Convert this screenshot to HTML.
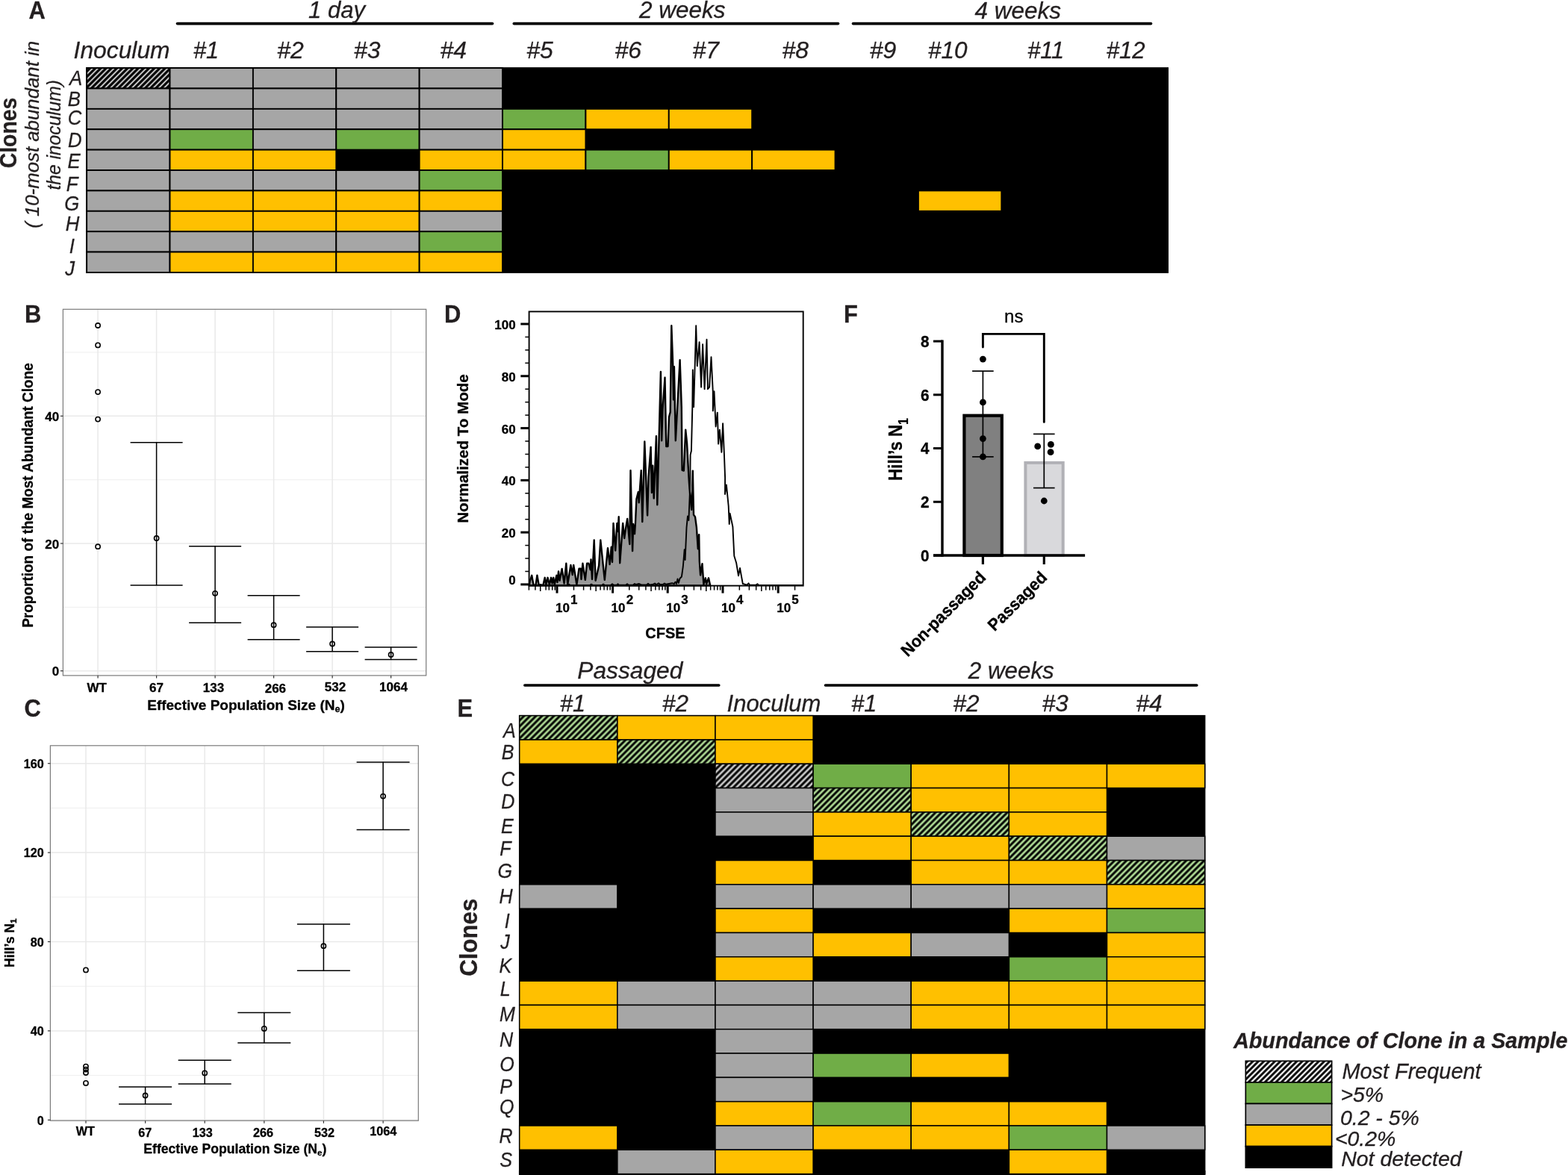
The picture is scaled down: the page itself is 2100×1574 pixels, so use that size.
<!DOCTYPE html>
<html lang="en">
<head>
<meta charset="utf-8">
<title>Figure: clonal abundance after inoculation</title>
<style>
html,body{margin:0;padding:0;background:#fff;}
body{width:2100px;height:1574px;overflow:hidden;}
svg{display:block;font-family:"Liberation Sans",sans-serif;}
text{fill:#231f20;stroke:#231f20;stroke-width:0.3px;stroke-linejoin:round;}
.k text{fill:#000;stroke:#000;}
.k text.pl{fill:#231f20;stroke:#231f20;}
</style>
</head>
<body>
<svg width="2100" height="1574" viewBox="0 0 2100 1574">
<defs><pattern id="hGrayA" patternUnits="userSpaceOnUse" width="5.08" height="5.08" patternTransform="rotate(45)"><rect width="5.08" height="5.08" fill="#c8c8c8"/><line x1="2.54" y1="-1" x2="2.54" y2="6.08" stroke="#000" stroke-width="3.1"/></pattern><pattern id="hGray" patternUnits="userSpaceOnUse" width="5.66" height="5.66" patternTransform="rotate(45)"><rect width="5.66" height="5.66" fill="#cdcdcd"/><line x1="2.83" y1="-1" x2="2.83" y2="6.66" stroke="#000" stroke-width="3.0"/></pattern><pattern id="hGreen" patternUnits="userSpaceOnUse" width="5.66" height="5.66" patternTransform="rotate(45)"><rect width="5.66" height="5.66" fill="#b0dc96"/><line x1="2.83" y1="-1" x2="2.83" y2="6.66" stroke="#000" stroke-width="2.95"/></pattern><pattern id="hWhite" patternUnits="userSpaceOnUse" width="5.2" height="5.2" patternTransform="rotate(45)"><rect width="5.2" height="5.2" fill="#ffffff"/><line x1="2.6" y1="-1" x2="2.6" y2="6.2" stroke="#000" stroke-width="2.9"/></pattern></defs>
<rect x="0" y="0" width="2100" height="1574" fill="#ffffff"/>
<g id="panelA">
<text font-size="32.9" transform="translate(38.60 25.20) scale(0.94 1)" font-weight="bold" stroke-width="0">A</text>
<rect x="115.20" y="90.15" width="1449.80" height="275.75" fill="#000"/>
<g stroke="#000" stroke-width="1.9">
<rect x="116.15" y="91.10" width="111.38" height="27.39" fill="url(#hGrayA)"/>
<rect x="227.53" y="91.10" width="111.38" height="27.39" fill="#a6a6a6"/>
<rect x="338.90" y="91.10" width="111.38" height="27.39" fill="#a6a6a6"/>
<rect x="450.28" y="91.10" width="111.38" height="27.39" fill="#a6a6a6"/>
<rect x="561.66" y="91.10" width="111.38" height="27.39" fill="#a6a6a6"/>
<rect x="116.15" y="118.48" width="111.38" height="27.39" fill="#a6a6a6"/>
<rect x="227.53" y="118.48" width="111.38" height="27.39" fill="#a6a6a6"/>
<rect x="338.90" y="118.48" width="111.38" height="27.39" fill="#a6a6a6"/>
<rect x="450.28" y="118.48" width="111.38" height="27.39" fill="#a6a6a6"/>
<rect x="561.66" y="118.48" width="111.38" height="27.39" fill="#a6a6a6"/>
<rect x="116.15" y="145.87" width="111.38" height="27.39" fill="#a6a6a6"/>
<rect x="227.53" y="145.87" width="111.38" height="27.39" fill="#a6a6a6"/>
<rect x="338.90" y="145.87" width="111.38" height="27.39" fill="#a6a6a6"/>
<rect x="450.28" y="145.87" width="111.38" height="27.39" fill="#a6a6a6"/>
<rect x="561.66" y="145.87" width="111.38" height="27.39" fill="#a6a6a6"/>
<rect x="673.03" y="145.87" width="111.38" height="27.39" fill="#70ad47"/>
<rect x="784.41" y="145.87" width="111.38" height="27.39" fill="#ffc000"/>
<rect x="895.79" y="145.87" width="111.38" height="27.39" fill="#ffc000"/>
<rect x="116.15" y="173.25" width="111.38" height="27.39" fill="#a6a6a6"/>
<rect x="227.53" y="173.25" width="111.38" height="27.39" fill="#70ad47"/>
<rect x="338.90" y="173.25" width="111.38" height="27.39" fill="#a6a6a6"/>
<rect x="450.28" y="173.25" width="111.38" height="27.39" fill="#70ad47"/>
<rect x="561.66" y="173.25" width="111.38" height="27.39" fill="#a6a6a6"/>
<rect x="673.03" y="173.25" width="111.38" height="27.39" fill="#ffc000"/>
<rect x="116.15" y="200.64" width="111.38" height="27.39" fill="#a6a6a6"/>
<rect x="227.53" y="200.64" width="111.38" height="27.39" fill="#ffc000"/>
<rect x="338.90" y="200.64" width="111.38" height="27.39" fill="#ffc000"/>
<rect x="561.66" y="200.64" width="111.38" height="27.39" fill="#ffc000"/>
<rect x="673.03" y="200.64" width="111.38" height="27.39" fill="#ffc000"/>
<rect x="784.41" y="200.64" width="111.38" height="27.39" fill="#70ad47"/>
<rect x="895.79" y="200.64" width="111.38" height="27.39" fill="#ffc000"/>
<rect x="1007.17" y="200.64" width="111.38" height="27.39" fill="#ffc000"/>
<rect x="116.15" y="228.03" width="111.38" height="27.39" fill="#a6a6a6"/>
<rect x="227.53" y="228.03" width="111.38" height="27.39" fill="#a6a6a6"/>
<rect x="338.90" y="228.03" width="111.38" height="27.39" fill="#a6a6a6"/>
<rect x="450.28" y="228.03" width="111.38" height="27.39" fill="#a6a6a6"/>
<rect x="561.66" y="228.03" width="111.38" height="27.39" fill="#70ad47"/>
<rect x="116.15" y="255.41" width="111.38" height="27.39" fill="#a6a6a6"/>
<rect x="227.53" y="255.41" width="111.38" height="27.39" fill="#ffc000"/>
<rect x="338.90" y="255.41" width="111.38" height="27.39" fill="#ffc000"/>
<rect x="450.28" y="255.41" width="111.38" height="27.39" fill="#ffc000"/>
<rect x="561.66" y="255.41" width="111.38" height="27.39" fill="#ffc000"/>
<rect x="1229.92" y="255.41" width="111.38" height="27.39" fill="#ffc000"/>
<rect x="116.15" y="282.80" width="111.38" height="27.39" fill="#a6a6a6"/>
<rect x="227.53" y="282.80" width="111.38" height="27.39" fill="#ffc000"/>
<rect x="338.90" y="282.80" width="111.38" height="27.39" fill="#ffc000"/>
<rect x="450.28" y="282.80" width="111.38" height="27.39" fill="#ffc000"/>
<rect x="561.66" y="282.80" width="111.38" height="27.39" fill="#a6a6a6"/>
<rect x="116.15" y="310.18" width="111.38" height="27.39" fill="#a6a6a6"/>
<rect x="227.53" y="310.18" width="111.38" height="27.39" fill="#a6a6a6"/>
<rect x="338.90" y="310.18" width="111.38" height="27.39" fill="#a6a6a6"/>
<rect x="450.28" y="310.18" width="111.38" height="27.39" fill="#a6a6a6"/>
<rect x="561.66" y="310.18" width="111.38" height="27.39" fill="#70ad47"/>
<rect x="116.15" y="337.56" width="111.38" height="27.39" fill="#a6a6a6"/>
<rect x="227.53" y="337.56" width="111.38" height="27.39" fill="#ffc000"/>
<rect x="338.90" y="337.56" width="111.38" height="27.39" fill="#ffc000"/>
<rect x="450.28" y="337.56" width="111.38" height="27.39" fill="#ffc000"/>
<rect x="561.66" y="337.56" width="111.38" height="27.39" fill="#ffc000"/>
</g>
<line x1="237.60" y1="31.60" x2="659.40" y2="31.60" stroke="#000" stroke-width="3.8" stroke-linecap="round"/>
<line x1="688.40" y1="31.60" x2="1122.40" y2="31.60" stroke="#000" stroke-width="3.8" stroke-linecap="round"/>
<line x1="1142.60" y1="31.60" x2="1541.40" y2="31.60" stroke="#000" stroke-width="3.8" stroke-linecap="round"/>
<text font-size="31" x="413.00" y="23.60" font-style="italic" textLength="76.00" lengthAdjust="spacingAndGlyphs">1 day</text>
<text font-size="31" x="856.00" y="23.60" font-style="italic" textLength="115.50" lengthAdjust="spacingAndGlyphs">2 weeks</text>
<text font-size="31" x="1305.50" y="25.00" font-style="italic" textLength="115.50" lengthAdjust="spacingAndGlyphs">4 weeks</text>
<text font-size="32" x="98.60" y="78.30" font-style="italic" textLength="129.00" lengthAdjust="spacingAndGlyphs">Inoculum</text>
<text font-size="32" x="259.00" y="78.30" font-style="italic" textLength="34.00" lengthAdjust="spacingAndGlyphs">#1</text>
<text font-size="32" x="371.20" y="78.30" font-style="italic" textLength="35.50" lengthAdjust="spacingAndGlyphs">#2</text>
<text font-size="32" x="474.00" y="78.30" font-style="italic" textLength="35.50" lengthAdjust="spacingAndGlyphs">#3</text>
<text font-size="32" x="589.50" y="78.30" font-style="italic" textLength="35.50" lengthAdjust="spacingAndGlyphs">#4</text>
<text font-size="32" x="705.30" y="78.30" font-style="italic" textLength="35.50" lengthAdjust="spacingAndGlyphs">#5</text>
<text font-size="32" x="823.40" y="78.30" font-style="italic" textLength="35.50" lengthAdjust="spacingAndGlyphs">#6</text>
<text font-size="32" x="927.40" y="78.30" font-style="italic" textLength="35.50" lengthAdjust="spacingAndGlyphs">#7</text>
<text font-size="32" x="1047.40" y="78.30" font-style="italic" textLength="35.50" lengthAdjust="spacingAndGlyphs">#8</text>
<text font-size="32" x="1164.80" y="78.30" font-style="italic" textLength="35.50" lengthAdjust="spacingAndGlyphs">#9</text>
<text font-size="32" x="1243.00" y="78.30" font-style="italic" textLength="52.50" lengthAdjust="spacingAndGlyphs">#10</text>
<text font-size="32" x="1376.20" y="78.30" font-style="italic" textLength="49.00" lengthAdjust="spacingAndGlyphs">#11</text>
<text font-size="32" x="1481.70" y="78.30" font-style="italic" textLength="52.00" lengthAdjust="spacingAndGlyphs">#12</text>
<text font-size="27.7" transform="translate(93.10 114.00) scale(0.93 1)" font-style="italic">A</text>
<text font-size="27.7" transform="translate(90.80 142.20) scale(0.93 1)" font-style="italic">B</text>
<text font-size="27.7" transform="translate(90.73 166.80) scale(0.93 1)" font-style="italic">C</text>
<text font-size="27.7" transform="translate(91.10 197.20) scale(0.93 1)" font-style="italic">D</text>
<text font-size="27.7" transform="translate(90.59 224.80) scale(0.93 1)" font-style="italic">E</text>
<text font-size="27.7" transform="translate(88.73 256.10) scale(0.93 1)" font-style="italic">F</text>
<text font-size="27.7" transform="translate(86.13 282.00) scale(0.93 1)" font-style="italic">G</text>
<text font-size="27.7" transform="translate(87.86 308.70) scale(0.93 1)" font-style="italic">H</text>
<text font-size="27.7" transform="translate(92.71 339.20) scale(0.93 1)" font-style="italic">I</text>
<text font-size="27.7" transform="translate(87.30 368.50) scale(0.93 1)" font-style="italic">J</text>
<text font-size="30.5" transform="translate(21.90 178.00) rotate(-90) scale(0.93 1)" font-weight="bold" text-anchor="middle" stroke-width="0">Clones</text>
<text font-size="25.8" x="52.00" y="180.40" transform="rotate(-90 52.00 180.40)" font-style="italic" text-anchor="middle">( 10-most abundant in</text>
<text font-size="25.8" x="81.00" y="254.60" transform="rotate(-90 81.00 254.60)" font-style="italic" textLength="147.50" lengthAdjust="spacingAndGlyphs">the inoculum)</text>
</g>
<g id="panelB" class="k">
<text font-size="32.9" transform="translate(32.90 431.90) scale(0.94 1)" font-weight="bold" stroke-width="0" class="pl">B</text>
<rect x="84.40" y="414.30" width="486.30" height="490.60" fill="#fff"/>
<line x1="84.40" y1="813.35" x2="570.70" y2="813.35" stroke="#ececec" stroke-width="0.9"/>
<line x1="84.40" y1="642.65" x2="570.70" y2="642.65" stroke="#ececec" stroke-width="0.9"/>
<line x1="84.40" y1="471.95" x2="570.70" y2="471.95" stroke="#ececec" stroke-width="0.9"/>
<line x1="84.40" y1="898.70" x2="570.70" y2="898.70" stroke="#e9e9e9" stroke-width="1.5"/>
<line x1="84.40" y1="728.00" x2="570.70" y2="728.00" stroke="#e9e9e9" stroke-width="1.5"/>
<line x1="84.40" y1="557.30" x2="570.70" y2="557.30" stroke="#e9e9e9" stroke-width="1.5"/>
<line x1="131.10" y1="414.30" x2="131.10" y2="904.90" stroke="#e9e9e9" stroke-width="1.5"/>
<line x1="209.60" y1="414.30" x2="209.60" y2="904.90" stroke="#e9e9e9" stroke-width="1.5"/>
<line x1="288.10" y1="414.30" x2="288.10" y2="904.90" stroke="#e9e9e9" stroke-width="1.5"/>
<line x1="366.60" y1="414.30" x2="366.60" y2="904.90" stroke="#e9e9e9" stroke-width="1.5"/>
<line x1="445.10" y1="414.30" x2="445.10" y2="904.90" stroke="#e9e9e9" stroke-width="1.5"/>
<line x1="523.60" y1="414.30" x2="523.60" y2="904.90" stroke="#e9e9e9" stroke-width="1.5"/>
<rect x="84.40" y="414.30" width="486.30" height="490.60" fill="none" stroke="#7a7a7a" stroke-width="1.2"/>
<line x1="80.90" y1="898.70" x2="84.40" y2="898.70" stroke="#333" stroke-width="1.2"/>
<text font-size="17" x="79.20" y="905.25" font-weight="bold" text-anchor="end" stroke-width="0.5">0</text>
<line x1="80.90" y1="728.00" x2="84.40" y2="728.00" stroke="#333" stroke-width="1.2"/>
<text font-size="17" x="79.20" y="734.54" font-weight="bold" text-anchor="end" stroke-width="0.5">20</text>
<line x1="80.90" y1="557.30" x2="84.40" y2="557.30" stroke="#333" stroke-width="1.2"/>
<text font-size="17" x="79.20" y="563.85" font-weight="bold" text-anchor="end" stroke-width="0.5">40</text>
<line x1="131.10" y1="904.90" x2="131.10" y2="908.40" stroke="#333" stroke-width="1.2"/>
<text font-size="17" x="129.60" y="926.70" font-weight="bold" text-anchor="middle" stroke-width="0.5">WT</text>
<line x1="209.60" y1="904.90" x2="209.60" y2="908.40" stroke="#333" stroke-width="1.2"/>
<text font-size="17" x="209.40" y="926.70" font-weight="bold" text-anchor="middle" stroke-width="0.5">67</text>
<line x1="288.10" y1="904.90" x2="288.10" y2="908.40" stroke="#333" stroke-width="1.2"/>
<text font-size="17" x="286.00" y="926.70" font-weight="bold" text-anchor="middle" stroke-width="0.5">133</text>
<line x1="366.60" y1="904.90" x2="366.60" y2="908.40" stroke="#333" stroke-width="1.2"/>
<text font-size="17" x="368.90" y="927.90" font-weight="bold" text-anchor="middle" stroke-width="0.5">266</text>
<line x1="445.10" y1="904.90" x2="445.10" y2="908.40" stroke="#333" stroke-width="1.2"/>
<text font-size="17" x="449.00" y="925.50" font-weight="bold" text-anchor="middle" stroke-width="0.5">532</text>
<line x1="523.60" y1="904.90" x2="523.60" y2="908.40" stroke="#333" stroke-width="1.2"/>
<text font-size="17" x="527.00" y="925.50" font-weight="bold" text-anchor="middle" stroke-width="0.5">1064</text>
<circle cx="131.10" cy="436.00" r="3.1" fill="none" stroke="#000" stroke-width="1.6"/>
<circle cx="131.10" cy="462.40" r="3.1" fill="none" stroke="#000" stroke-width="1.6"/>
<circle cx="131.10" cy="525.10" r="3.1" fill="none" stroke="#000" stroke-width="1.6"/>
<circle cx="131.10" cy="561.60" r="3.1" fill="none" stroke="#000" stroke-width="1.6"/>
<circle cx="131.10" cy="732.20" r="3.1" fill="none" stroke="#000" stroke-width="1.6"/>
<line x1="174.60" y1="592.80" x2="244.60" y2="592.80" stroke="#000" stroke-width="1.5"/>
<line x1="174.60" y1="784.00" x2="244.60" y2="784.00" stroke="#000" stroke-width="1.5"/>
<line x1="209.60" y1="592.80" x2="209.60" y2="784.00" stroke="#000" stroke-width="1.5"/>
<circle cx="209.60" cy="721.00" r="3.1" fill="none" stroke="#000" stroke-width="1.6"/>
<line x1="253.10" y1="731.80" x2="323.10" y2="731.80" stroke="#000" stroke-width="1.5"/>
<line x1="253.10" y1="834.30" x2="323.10" y2="834.30" stroke="#000" stroke-width="1.5"/>
<line x1="288.10" y1="731.80" x2="288.10" y2="834.30" stroke="#000" stroke-width="1.5"/>
<circle cx="288.10" cy="794.80" r="3.1" fill="none" stroke="#000" stroke-width="1.6"/>
<line x1="331.60" y1="797.70" x2="401.60" y2="797.70" stroke="#000" stroke-width="1.5"/>
<line x1="331.60" y1="856.70" x2="401.60" y2="856.70" stroke="#000" stroke-width="1.5"/>
<line x1="366.60" y1="797.70" x2="366.60" y2="856.70" stroke="#000" stroke-width="1.5"/>
<circle cx="366.60" cy="837.20" r="3.1" fill="none" stroke="#000" stroke-width="1.6"/>
<line x1="410.10" y1="840.10" x2="480.10" y2="840.10" stroke="#000" stroke-width="1.5"/>
<line x1="410.10" y1="872.70" x2="480.10" y2="872.70" stroke="#000" stroke-width="1.5"/>
<line x1="445.10" y1="840.10" x2="445.10" y2="872.70" stroke="#000" stroke-width="1.5"/>
<circle cx="445.10" cy="862.50" r="3.1" fill="none" stroke="#000" stroke-width="1.6"/>
<line x1="488.60" y1="866.90" x2="558.60" y2="866.90" stroke="#000" stroke-width="1.5"/>
<line x1="488.60" y1="883.50" x2="558.60" y2="883.50" stroke="#000" stroke-width="1.5"/>
<line x1="523.60" y1="866.90" x2="523.60" y2="883.50" stroke="#000" stroke-width="1.5"/>
<circle cx="523.60" cy="877.00" r="3.1" fill="none" stroke="#000" stroke-width="1.6"/>
<text x="329.50" y="950.50" font-size="19" font-weight="bold" stroke-width="0.5" text-anchor="middle">Effective Population Size (N<tspan font-size="12.5" dy="3.5">e</tspan><tspan dy="-3.5">)</tspan></text>
<text font-size="20.23" transform="translate(43.50 663.50) rotate(-90) scale(0.939 1)" font-weight="bold" text-anchor="middle" stroke-width="0.5">Proportion of the Most Abundant Clone</text>
</g>
<g id="panelC" class="k">
<text font-size="32.9" transform="translate(32.60 960.10) scale(0.94 1)" font-weight="bold" stroke-width="0" class="pl">C</text>
<rect x="67.40" y="998.80" width="492.90" height="502.40" fill="#fff"/>
<line x1="67.40" y1="1440.60" x2="560.30" y2="1440.60" stroke="#ececec" stroke-width="0.9"/>
<line x1="67.40" y1="1321.20" x2="560.30" y2="1321.20" stroke="#ececec" stroke-width="0.9"/>
<line x1="67.40" y1="1201.80" x2="560.30" y2="1201.80" stroke="#ececec" stroke-width="0.9"/>
<line x1="67.40" y1="1082.40" x2="560.30" y2="1082.40" stroke="#ececec" stroke-width="0.9"/>
<line x1="67.40" y1="1500.30" x2="560.30" y2="1500.30" stroke="#e9e9e9" stroke-width="1.5"/>
<line x1="67.40" y1="1380.90" x2="560.30" y2="1380.90" stroke="#e9e9e9" stroke-width="1.5"/>
<line x1="67.40" y1="1261.50" x2="560.30" y2="1261.50" stroke="#e9e9e9" stroke-width="1.5"/>
<line x1="67.40" y1="1142.10" x2="560.30" y2="1142.10" stroke="#e9e9e9" stroke-width="1.5"/>
<line x1="67.40" y1="1022.70" x2="560.30" y2="1022.70" stroke="#e9e9e9" stroke-width="1.5"/>
<line x1="115.00" y1="998.80" x2="115.00" y2="1501.20" stroke="#e9e9e9" stroke-width="1.5"/>
<line x1="194.60" y1="998.80" x2="194.60" y2="1501.20" stroke="#e9e9e9" stroke-width="1.5"/>
<line x1="274.20" y1="998.80" x2="274.20" y2="1501.20" stroke="#e9e9e9" stroke-width="1.5"/>
<line x1="353.80" y1="998.80" x2="353.80" y2="1501.20" stroke="#e9e9e9" stroke-width="1.5"/>
<line x1="433.40" y1="998.80" x2="433.40" y2="1501.20" stroke="#e9e9e9" stroke-width="1.5"/>
<line x1="513.10" y1="998.80" x2="513.10" y2="1501.20" stroke="#e9e9e9" stroke-width="1.5"/>
<rect x="67.40" y="998.80" width="492.90" height="502.40" fill="none" stroke="#7a7a7a" stroke-width="1.2"/>
<line x1="63.90" y1="1500.30" x2="67.40" y2="1500.30" stroke="#333" stroke-width="1.2"/>
<text font-size="16.2" x="58.80" y="1506.54" font-weight="bold" text-anchor="end" stroke-width="0.5">0</text>
<line x1="63.90" y1="1380.90" x2="67.40" y2="1380.90" stroke="#333" stroke-width="1.2"/>
<text font-size="16.2" x="58.80" y="1387.14" font-weight="bold" text-anchor="end" stroke-width="0.5">40</text>
<line x1="63.90" y1="1261.50" x2="67.40" y2="1261.50" stroke="#333" stroke-width="1.2"/>
<text font-size="16.2" x="58.80" y="1267.74" font-weight="bold" text-anchor="end" stroke-width="0.5">80</text>
<line x1="63.90" y1="1142.10" x2="67.40" y2="1142.10" stroke="#333" stroke-width="1.2"/>
<text font-size="16.2" x="58.80" y="1148.34" font-weight="bold" text-anchor="end" stroke-width="0.5">120</text>
<line x1="63.90" y1="1022.70" x2="67.40" y2="1022.70" stroke="#333" stroke-width="1.2"/>
<text font-size="16.2" x="58.80" y="1028.94" font-weight="bold" text-anchor="end" stroke-width="0.5">160</text>
<line x1="115.00" y1="1501.20" x2="115.00" y2="1504.70" stroke="#333" stroke-width="1.2"/>
<text font-size="16.2" x="114.30" y="1521.00" font-weight="bold" text-anchor="middle" stroke-width="0.5">WT</text>
<line x1="194.60" y1="1501.20" x2="194.60" y2="1504.70" stroke="#333" stroke-width="1.2"/>
<text font-size="16.2" x="194.30" y="1522.90" font-weight="bold" text-anchor="middle" stroke-width="0.5">67</text>
<line x1="274.20" y1="1501.20" x2="274.20" y2="1504.70" stroke="#333" stroke-width="1.2"/>
<text font-size="16.2" x="271.20" y="1522.90" font-weight="bold" text-anchor="middle" stroke-width="0.5">133</text>
<line x1="353.80" y1="1501.20" x2="353.80" y2="1504.70" stroke="#333" stroke-width="1.2"/>
<text font-size="16.2" x="352.50" y="1522.90" font-weight="bold" text-anchor="middle" stroke-width="0.5">266</text>
<line x1="433.40" y1="1501.20" x2="433.40" y2="1504.70" stroke="#333" stroke-width="1.2"/>
<text font-size="16.2" x="434.50" y="1522.90" font-weight="bold" text-anchor="middle" stroke-width="0.5">532</text>
<line x1="513.10" y1="1501.20" x2="513.10" y2="1504.70" stroke="#333" stroke-width="1.2"/>
<text font-size="16.2" x="513.30" y="1521.00" font-weight="bold" text-anchor="middle" stroke-width="0.5">1064</text>
<circle cx="115.00" cy="1299.40" r="3.1" fill="none" stroke="#000" stroke-width="1.6"/>
<circle cx="115.00" cy="1428.60" r="3.1" fill="none" stroke="#000" stroke-width="1.6"/>
<circle cx="115.00" cy="1432.60" r="3.1" fill="none" stroke="#000" stroke-width="1.6"/>
<circle cx="115.00" cy="1437.00" r="3.1" fill="none" stroke="#000" stroke-width="1.6"/>
<circle cx="115.00" cy="1450.90" r="3.1" fill="none" stroke="#000" stroke-width="1.6"/>
<line x1="159.10" y1="1456.00" x2="230.10" y2="1456.00" stroke="#000" stroke-width="1.5"/>
<line x1="159.10" y1="1479.00" x2="230.10" y2="1479.00" stroke="#000" stroke-width="1.5"/>
<line x1="194.60" y1="1456.00" x2="194.60" y2="1479.00" stroke="#000" stroke-width="1.5"/>
<circle cx="194.60" cy="1467.50" r="3.1" fill="none" stroke="#000" stroke-width="1.6"/>
<line x1="238.70" y1="1420.30" x2="309.70" y2="1420.30" stroke="#000" stroke-width="1.5"/>
<line x1="238.70" y1="1452.00" x2="309.70" y2="1452.00" stroke="#000" stroke-width="1.5"/>
<line x1="274.20" y1="1420.30" x2="274.20" y2="1452.00" stroke="#000" stroke-width="1.5"/>
<circle cx="274.20" cy="1437.40" r="3.1" fill="none" stroke="#000" stroke-width="1.6"/>
<line x1="318.30" y1="1356.50" x2="389.30" y2="1356.50" stroke="#000" stroke-width="1.5"/>
<line x1="318.30" y1="1396.90" x2="389.30" y2="1396.90" stroke="#000" stroke-width="1.5"/>
<line x1="353.80" y1="1356.50" x2="353.80" y2="1396.90" stroke="#000" stroke-width="1.5"/>
<circle cx="353.80" cy="1377.90" r="3.1" fill="none" stroke="#000" stroke-width="1.6"/>
<line x1="397.90" y1="1237.90" x2="468.90" y2="1237.90" stroke="#000" stroke-width="1.5"/>
<line x1="397.90" y1="1300.20" x2="468.90" y2="1300.20" stroke="#000" stroke-width="1.5"/>
<line x1="433.40" y1="1237.90" x2="433.40" y2="1300.20" stroke="#000" stroke-width="1.5"/>
<circle cx="433.40" cy="1267.20" r="3.1" fill="none" stroke="#000" stroke-width="1.6"/>
<line x1="477.60" y1="1021.00" x2="548.60" y2="1021.00" stroke="#000" stroke-width="1.5"/>
<line x1="477.60" y1="1111.40" x2="548.60" y2="1111.40" stroke="#000" stroke-width="1.5"/>
<line x1="513.10" y1="1021.00" x2="513.10" y2="1111.40" stroke="#000" stroke-width="1.5"/>
<circle cx="513.10" cy="1066.60" r="3.1" fill="none" stroke="#000" stroke-width="1.6"/>
<text x="314.80" y="1544.80" font-size="17.6" font-weight="bold" stroke-width="0.5" text-anchor="middle">Effective Population Size (N<tspan font-size="11.6" dy="3.5">e</tspan><tspan dy="-3.5">)</tspan></text>
<text font-size="17.6" transform="translate(18.60 1263.20) rotate(-90) scale(1.0 1)" font-weight="bold" text-anchor="middle" stroke-width="0.5">Hill’s N<tspan font-size="11.8" dy="3.5">1</tspan></text>
</g>
<g id="panelD" class="k">
<text font-size="32.9" transform="translate(595.00 431.90) scale(0.94 1)" font-weight="bold" stroke-width="0" class="pl">D</text>
<polygon points="708.8,784.4 709.6,779.0 712.2,770.8 714.5,783.6 717.5,783.6 719.4,770.8 721.7,783.6 727.4,783.8 729.7,773.8 731.3,783.2 733.5,773.8 735.8,783.2 738.1,773.8 739.6,781.5 741.2,773.8 742.7,783.2 745.4,770.8 746.5,780.0 748.0,765.5 749.5,777.7 752.6,762.0 755.6,781.5 758.3,754.8 760.2,783.2 764.4,757.0 766.7,770.0 768.2,757.0 772.4,783.2 775.5,761.6 777.7,761.6 778.5,776.0 780.4,754.8 783.8,776.9 786.1,754.8 788.4,754.8 790.7,763.2 791.5,749.5 793.0,776.0 795.7,723.5 797.6,777.7 802.1,757.8 804.3,723.5 809.8,776.9 814.0,734.2 816.6,756.0 818.8,732.6 820.0,753.0 821.5,701.0 824.2,737.5 826.4,701.0 827.5,712.0 828.7,692.3 830.2,754.2 834.2,701.0 836.2,721.0 838.0,708.0 840.2,695.0 843.3,729.0 844.5,630.3 847.1,738.1 848.1,701.9 850.0,715.2 851.0,700.0 852.4,668.6 854.8,659.0 855.7,673.3 858.7,630.3 860.3,699.0 863.3,591.5 867.1,690.5 868.6,638.4 871.6,598.9 872.9,660.0 874.2,623.8 875.7,667.6 878.9,584.3 880.3,676.2 884.9,498.0 886.2,590.3 887.5,548.5 890.5,505.8 892.3,598.0 894.5,598.0 896.0,558.6 897.7,552.0 899.3,436.3 901.3,491.2 902.0,535.4 902.9,491.2 904.8,590.3 910.6,482.2 912.8,545.8 913.6,629.8 915.8,630.6 918.2,575.7 920.0,593.0 922.5,640.0 923.5,655.0 926.2,682.9 927.8,630.6 929.0,689.5 931.0,692.4 932.9,706.7 934.8,735.2 936.2,716.2 936.8,752.0 938.1,770.5 940.5,755.2 942.4,782.9 944.8,774.3 946.2,782.0 949.0,774.3 951.0,783.5 951.2,784.4" fill="#999999" stroke="#000" stroke-width="2.4" stroke-linejoin="round"/>
<polyline points="708.8,784.0 722.0,784.0 724.0,783.0 726.0,784.0 760.0,784.0 762.0,782.8 764.0,784.0 790.0,784.0 792.0,782.6 794.0,784.0 806.0,784.0 808.0,782.5 810.0,784.0 818.0,783.8 820.0,782.3 822.0,783.8 826.0,783.8 827.5,782.2 829.0,783.8 838.0,783.8 840.0,782.3 842.0,783.8 848.0,783.6 850.0,782.0 852.0,783.0 856.0,782.0 859.0,783.4 866.0,783.4 868.0,781.8 870.0,783.4 874.0,783.0 877.0,781.5 879.0,783.2 882.0,781.3 884.0,783.0 888.0,782.8 890.0,781.5 892.0,782.8 896.0,782.0 900.0,781.2 903.0,782.0 904.5,779.5 906.0,782.0 907.5,775.5 908.8,781.0 910.5,775.0 912.9,772.5 914.8,759.0 916.7,736.2 917.6,750.0 919.5,706.7 921.0,691.4 922.4,697.0 924.3,649.5 924.6,609.2 925.9,604.0 927.3,545.7 927.8,495.5 929.1,545.2 932.2,436.3 933.8,490.3 936.6,458.2 939.1,518.6 941.1,461.2 943.6,521.2 946.5,454.7 947.9,521.2 950.1,518.6 952.5,478.3 954.8,524.6 954.8,550.4 956.5,524.3 958.6,571.5 960.8,552.6 962.1,594.6 963.8,575.7 966.4,605.8 968.1,567.2 969.8,605.8 971.1,640.0 971.0,662.0 972.9,649.5 975.7,678.0 976.7,702.0 977.6,687.6 981.4,705.7 983.3,744.8 986.2,754.3 989.0,771.4 991.0,761.0 994.8,782.0 1000.5,783.6 1002.5,781.3 1004.0,783.8 1012.0,783.8 1014.5,782.2 1016.0,784.0 1075.0,784.0" fill="none" stroke="#000" stroke-width="1.9" stroke-linejoin="round"/>
<rect x="708.60" y="417.40" width="367.10" height="367.20" fill="none" stroke="#000" stroke-width="1.9"/>
<line x1="697.30" y1="782.90" x2="708.60" y2="782.90" stroke="#000" stroke-width="3.0"/>
<line x1="703.30" y1="765.45" x2="708.60" y2="765.45" stroke="#000" stroke-width="1.5"/>
<line x1="703.30" y1="748.01" x2="708.60" y2="748.01" stroke="#000" stroke-width="1.5"/>
<line x1="703.30" y1="730.56" x2="708.60" y2="730.56" stroke="#000" stroke-width="1.5"/>
<line x1="697.30" y1="713.12" x2="708.60" y2="713.12" stroke="#000" stroke-width="3.0"/>
<line x1="703.30" y1="695.67" x2="708.60" y2="695.67" stroke="#000" stroke-width="1.5"/>
<line x1="703.30" y1="678.23" x2="708.60" y2="678.23" stroke="#000" stroke-width="1.5"/>
<line x1="703.30" y1="660.78" x2="708.60" y2="660.78" stroke="#000" stroke-width="1.5"/>
<line x1="697.30" y1="643.34" x2="708.60" y2="643.34" stroke="#000" stroke-width="3.0"/>
<line x1="703.30" y1="625.89" x2="708.60" y2="625.89" stroke="#000" stroke-width="1.5"/>
<line x1="703.30" y1="608.45" x2="708.60" y2="608.45" stroke="#000" stroke-width="1.5"/>
<line x1="703.30" y1="591.00" x2="708.60" y2="591.00" stroke="#000" stroke-width="1.5"/>
<line x1="697.30" y1="573.56" x2="708.60" y2="573.56" stroke="#000" stroke-width="3.0"/>
<line x1="703.30" y1="556.12" x2="708.60" y2="556.12" stroke="#000" stroke-width="1.5"/>
<line x1="703.30" y1="538.67" x2="708.60" y2="538.67" stroke="#000" stroke-width="1.5"/>
<line x1="703.30" y1="521.22" x2="708.60" y2="521.22" stroke="#000" stroke-width="1.5"/>
<line x1="697.30" y1="503.78" x2="708.60" y2="503.78" stroke="#000" stroke-width="3.0"/>
<line x1="703.30" y1="486.33" x2="708.60" y2="486.33" stroke="#000" stroke-width="1.5"/>
<line x1="703.30" y1="468.89" x2="708.60" y2="468.89" stroke="#000" stroke-width="1.5"/>
<line x1="703.30" y1="451.44" x2="708.60" y2="451.44" stroke="#000" stroke-width="1.5"/>
<line x1="697.30" y1="434.00" x2="708.60" y2="434.00" stroke="#000" stroke-width="3.0"/>
<text font-size="17" x="690.60" y="783.20" font-weight="bold" text-anchor="end" stroke-width="0.5">0</text>
<text font-size="17" x="690.60" y="720.12" font-weight="bold" text-anchor="end" stroke-width="0.5">20</text>
<text font-size="17" x="690.60" y="650.34" font-weight="bold" text-anchor="end" stroke-width="0.5">40</text>
<text font-size="17" x="690.60" y="580.56" font-weight="bold" text-anchor="end" stroke-width="0.5">60</text>
<text font-size="17" x="690.60" y="510.78" font-weight="bold" text-anchor="end" stroke-width="0.5">80</text>
<text font-size="17" x="690.60" y="441.00" font-weight="bold" text-anchor="end" stroke-width="0.5">100</text>
<line x1="746.00" y1="784.60" x2="746.00" y2="794.60" stroke="#000" stroke-width="3.0"/>
<text x="744.00" y="820.4" font-size="17" font-weight="bold" stroke-width="0.5">10<tspan dy="-11.8" dx="1.2">1</tspan></text>
<line x1="820.60" y1="784.60" x2="820.60" y2="794.60" stroke="#000" stroke-width="3.0"/>
<text x="818.60" y="820.4" font-size="17" font-weight="bold" stroke-width="0.5">10<tspan dy="-11.8" dx="1.2">2</tspan></text>
<line x1="894.20" y1="784.60" x2="894.20" y2="794.60" stroke="#000" stroke-width="3.0"/>
<text x="892.20" y="820.4" font-size="17" font-weight="bold" stroke-width="0.5">10<tspan dy="-11.8" dx="1.2">3</tspan></text>
<line x1="968.00" y1="784.60" x2="968.00" y2="794.60" stroke="#000" stroke-width="3.0"/>
<text x="966.00" y="820.4" font-size="17" font-weight="bold" stroke-width="0.5">10<tspan dy="-11.8" dx="1.2">4</tspan></text>
<line x1="1042.20" y1="784.60" x2="1042.20" y2="794.60" stroke="#000" stroke-width="3.0"/>
<text x="1040.20" y="820.4" font-size="17" font-weight="bold" stroke-width="0.5">10<tspan dy="-11.8" dx="1.2">5</tspan></text>
<line x1="708.40" y1="784.60" x2="708.40" y2="790.60" stroke="#000" stroke-width="1.5"/>
<line x1="716.90" y1="784.60" x2="716.90" y2="790.60" stroke="#000" stroke-width="1.5"/>
<line x1="731.10" y1="784.60" x2="731.10" y2="790.60" stroke="#000" stroke-width="1.5"/>
<line x1="735.30" y1="784.60" x2="735.30" y2="790.60" stroke="#000" stroke-width="1.5"/>
<line x1="739.70" y1="784.60" x2="739.70" y2="790.60" stroke="#000" stroke-width="1.5"/>
<line x1="743.30" y1="784.60" x2="743.30" y2="790.60" stroke="#000" stroke-width="1.5"/>
<line x1="723.70" y1="784.60" x2="723.70" y2="792.00" stroke="#000" stroke-width="1.5"/>
<line x1="768.46" y1="784.60" x2="768.46" y2="790.60" stroke="#000" stroke-width="1.5"/>
<line x1="781.59" y1="784.60" x2="781.59" y2="790.60" stroke="#000" stroke-width="1.5"/>
<line x1="790.91" y1="784.60" x2="790.91" y2="790.60" stroke="#000" stroke-width="1.5"/>
<line x1="798.14" y1="784.60" x2="798.14" y2="792.00" stroke="#000" stroke-width="1.5"/>
<line x1="804.05" y1="784.60" x2="804.05" y2="790.60" stroke="#000" stroke-width="1.5"/>
<line x1="809.04" y1="784.60" x2="809.04" y2="790.60" stroke="#000" stroke-width="1.5"/>
<line x1="813.37" y1="784.60" x2="813.37" y2="790.60" stroke="#000" stroke-width="1.5"/>
<line x1="817.19" y1="784.60" x2="817.19" y2="790.60" stroke="#000" stroke-width="1.5"/>
<line x1="842.76" y1="784.60" x2="842.76" y2="790.60" stroke="#000" stroke-width="1.5"/>
<line x1="855.72" y1="784.60" x2="855.72" y2="790.60" stroke="#000" stroke-width="1.5"/>
<line x1="864.91" y1="784.60" x2="864.91" y2="790.60" stroke="#000" stroke-width="1.5"/>
<line x1="872.04" y1="784.60" x2="872.04" y2="792.00" stroke="#000" stroke-width="1.5"/>
<line x1="877.87" y1="784.60" x2="877.87" y2="790.60" stroke="#000" stroke-width="1.5"/>
<line x1="882.80" y1="784.60" x2="882.80" y2="790.60" stroke="#000" stroke-width="1.5"/>
<line x1="887.07" y1="784.60" x2="887.07" y2="790.60" stroke="#000" stroke-width="1.5"/>
<line x1="890.83" y1="784.60" x2="890.83" y2="790.60" stroke="#000" stroke-width="1.5"/>
<line x1="916.42" y1="784.60" x2="916.42" y2="790.60" stroke="#000" stroke-width="1.5"/>
<line x1="929.41" y1="784.60" x2="929.41" y2="790.60" stroke="#000" stroke-width="1.5"/>
<line x1="938.63" y1="784.60" x2="938.63" y2="790.60" stroke="#000" stroke-width="1.5"/>
<line x1="945.78" y1="784.60" x2="945.78" y2="792.00" stroke="#000" stroke-width="1.5"/>
<line x1="951.63" y1="784.60" x2="951.63" y2="790.60" stroke="#000" stroke-width="1.5"/>
<line x1="956.57" y1="784.60" x2="956.57" y2="790.60" stroke="#000" stroke-width="1.5"/>
<line x1="960.85" y1="784.60" x2="960.85" y2="790.60" stroke="#000" stroke-width="1.5"/>
<line x1="964.62" y1="784.60" x2="964.62" y2="790.60" stroke="#000" stroke-width="1.5"/>
<line x1="990.34" y1="784.60" x2="990.34" y2="790.60" stroke="#000" stroke-width="1.5"/>
<line x1="1003.40" y1="784.60" x2="1003.40" y2="790.60" stroke="#000" stroke-width="1.5"/>
<line x1="1012.67" y1="784.60" x2="1012.67" y2="790.60" stroke="#000" stroke-width="1.5"/>
<line x1="1019.86" y1="784.60" x2="1019.86" y2="792.00" stroke="#000" stroke-width="1.5"/>
<line x1="1025.74" y1="784.60" x2="1025.74" y2="790.60" stroke="#000" stroke-width="1.5"/>
<line x1="1030.71" y1="784.60" x2="1030.71" y2="790.60" stroke="#000" stroke-width="1.5"/>
<line x1="1035.01" y1="784.60" x2="1035.01" y2="790.60" stroke="#000" stroke-width="1.5"/>
<line x1="1038.80" y1="784.60" x2="1038.80" y2="790.60" stroke="#000" stroke-width="1.5"/>
<line x1="1064.54" y1="784.60" x2="1064.54" y2="790.60" stroke="#000" stroke-width="1.5"/>
<text font-size="20" x="890.90" y="855.30" font-weight="bold" text-anchor="middle" stroke-width="0.5">CFSE</text>
<text font-size="20.5" x="627.30" y="601.00" transform="rotate(-90 627.30 601.00)" font-weight="bold" text-anchor="middle" textLength="199.50" lengthAdjust="spacingAndGlyphs" stroke-width="0.5">Normalized To Mode</text>
</g>
<g id="panelF" class="k">
<text font-size="32.9" transform="translate(1130.00 431.90) scale(0.94 1)" font-weight="bold" stroke-width="0" class="pl">F</text>
<rect x="1291.40" y="556.70" width="50.40" height="187.30" fill="#808080" stroke="#000" stroke-width="4.2"/>
<rect x="1373.40" y="619.90" width="50.30" height="124.10" fill="#d9d9dc" stroke="#b1b1b6" stroke-width="4.0"/>
<line x1="1262.00" y1="455.40" x2="1262.00" y2="745.70" stroke="#000" stroke-width="3.4"/>
<line x1="1250.00" y1="744.00" x2="1453.10" y2="744.00" stroke="#000" stroke-width="3.4"/>
<line x1="1250.00" y1="744.00" x2="1262.00" y2="744.00" stroke="#000" stroke-width="3.0"/>
<text font-size="22.6" transform="translate(1244.60 751.70) scale(0.92 1)" font-weight="bold" text-anchor="end" stroke-width="0.9">0</text>
<line x1="1250.00" y1="672.28" x2="1262.00" y2="672.28" stroke="#000" stroke-width="3.0"/>
<text font-size="22.6" transform="translate(1244.60 679.98) scale(0.92 1)" font-weight="bold" text-anchor="end" stroke-width="0.9">2</text>
<line x1="1250.00" y1="600.56" x2="1262.00" y2="600.56" stroke="#000" stroke-width="3.0"/>
<text font-size="22.6" transform="translate(1244.60 608.26) scale(0.92 1)" font-weight="bold" text-anchor="end" stroke-width="0.9">4</text>
<line x1="1250.00" y1="528.84" x2="1262.00" y2="528.84" stroke="#000" stroke-width="3.0"/>
<text font-size="22.6" transform="translate(1244.60 536.54) scale(0.92 1)" font-weight="bold" text-anchor="end" stroke-width="0.9">6</text>
<line x1="1250.00" y1="457.12" x2="1262.00" y2="457.12" stroke="#000" stroke-width="3.0"/>
<text font-size="22.6" transform="translate(1244.60 464.82) scale(0.92 1)" font-weight="bold" text-anchor="end" stroke-width="0.9">8</text>
<line x1="1316.40" y1="744.00" x2="1316.40" y2="756.00" stroke="#000" stroke-width="3.2"/>
<line x1="1398.30" y1="744.00" x2="1398.30" y2="756.00" stroke="#000" stroke-width="3.2"/>
<line x1="1316.40" y1="497.10" x2="1316.40" y2="611.90" stroke="#000" stroke-width="1.7"/>
<line x1="1302.10" y1="497.10" x2="1330.70" y2="497.10" stroke="#000" stroke-width="1.7"/>
<line x1="1302.10" y1="611.90" x2="1330.70" y2="611.90" stroke="#000" stroke-width="1.7"/>
<line x1="1398.30" y1="581.40" x2="1398.30" y2="653.60" stroke="#000" stroke-width="1.7"/>
<line x1="1384.00" y1="581.40" x2="1412.60" y2="581.40" stroke="#000" stroke-width="1.7"/>
<line x1="1384.00" y1="653.60" x2="1412.60" y2="653.60" stroke="#000" stroke-width="1.7"/>
<circle cx="1316.4" cy="481.1" r="4.4" fill="#000"/>
<circle cx="1316.4" cy="538.9" r="4.4" fill="#000"/>
<circle cx="1316.4" cy="587.6" r="4.4" fill="#000"/>
<circle cx="1316.4" cy="611.9" r="4.4" fill="#000"/>
<circle cx="1389.7" cy="597.9" r="4.4" fill="#000"/>
<circle cx="1407.4" cy="595.4" r="4.4" fill="#000"/>
<circle cx="1407.1" cy="605.7" r="4.4" fill="#000"/>
<circle cx="1398.3" cy="671" r="4.4" fill="#000"/>
<path d="M1316.4 465 V447.4 H1398.3 V565.4" fill="none" stroke="#000" stroke-width="2.9" stroke-linecap="round"/>
<text font-size="24" x="1357.80" y="432.10" text-anchor="middle">ns</text>
<text font-size="22.6" transform="translate(1321.50 775.00) rotate(-45) scale(0.96 1)" font-weight="bold" text-anchor="end" stroke-width="0.7">Non-passaged</text>
<text font-size="22.6" transform="translate(1403.50 775.00) rotate(-45) scale(0.96 1)" font-weight="bold" text-anchor="end" stroke-width="0.7">Passaged</text>
<text font-size="26" transform="translate(1207.90 602.00) rotate(-90) scale(0.86 1)" font-weight="bold" text-anchor="middle" stroke-width="0.9">Hill’s N<tspan font-size="18.5" dy="8">1</tspan></text>
</g>
<g id="panelE">
<rect x="694.95" y="1568.00" width="919.45" height="6.00" fill="#000"/>
<rect x="694.95" y="957.90" width="919.45" height="615.45" fill="#000"/>
<g stroke="#000" stroke-width="1.5">
<rect x="695.70" y="958.65" width="131.14" height="32.31" fill="url(#hGreen)"/>
<rect x="826.84" y="958.65" width="131.14" height="32.31" fill="#ffc000"/>
<rect x="957.97" y="958.65" width="131.14" height="32.31" fill="#ffc000"/>
<rect x="695.70" y="990.96" width="131.14" height="32.31" fill="#ffc000"/>
<rect x="826.84" y="990.96" width="131.14" height="32.31" fill="url(#hGreen)"/>
<rect x="957.97" y="990.96" width="131.14" height="32.31" fill="#ffc000"/>
<rect x="957.97" y="1023.28" width="131.14" height="32.31" fill="url(#hGray)"/>
<rect x="1089.11" y="1023.28" width="131.14" height="32.31" fill="#70ad47"/>
<rect x="1220.24" y="1023.28" width="131.14" height="32.31" fill="#ffc000"/>
<rect x="1351.38" y="1023.28" width="131.14" height="32.31" fill="#ffc000"/>
<rect x="1482.51" y="1023.28" width="131.14" height="32.31" fill="#ffc000"/>
<rect x="957.97" y="1055.59" width="131.14" height="32.31" fill="#a6a6a6"/>
<rect x="1089.11" y="1055.59" width="131.14" height="32.31" fill="url(#hGreen)"/>
<rect x="1220.24" y="1055.59" width="131.14" height="32.31" fill="#ffc000"/>
<rect x="1351.38" y="1055.59" width="131.14" height="32.31" fill="#ffc000"/>
<rect x="957.97" y="1087.90" width="131.14" height="32.31" fill="#a6a6a6"/>
<rect x="1089.11" y="1087.90" width="131.14" height="32.31" fill="#ffc000"/>
<rect x="1220.24" y="1087.90" width="131.14" height="32.31" fill="url(#hGreen)"/>
<rect x="1351.38" y="1087.90" width="131.14" height="32.31" fill="#ffc000"/>
<rect x="1089.11" y="1120.22" width="131.14" height="32.31" fill="#ffc000"/>
<rect x="1220.24" y="1120.22" width="131.14" height="32.31" fill="#ffc000"/>
<rect x="1351.38" y="1120.22" width="131.14" height="32.31" fill="url(#hGreen)"/>
<rect x="1482.51" y="1120.22" width="131.14" height="32.31" fill="#a6a6a6"/>
<rect x="957.97" y="1152.53" width="131.14" height="32.31" fill="#ffc000"/>
<rect x="1220.24" y="1152.53" width="131.14" height="32.31" fill="#ffc000"/>
<rect x="1351.38" y="1152.53" width="131.14" height="32.31" fill="#ffc000"/>
<rect x="1482.51" y="1152.53" width="131.14" height="32.31" fill="url(#hGreen)"/>
<rect x="695.70" y="1184.84" width="131.14" height="32.31" fill="#a6a6a6"/>
<rect x="957.97" y="1184.84" width="131.14" height="32.31" fill="#a6a6a6"/>
<rect x="1089.11" y="1184.84" width="131.14" height="32.31" fill="#a6a6a6"/>
<rect x="1220.24" y="1184.84" width="131.14" height="32.31" fill="#a6a6a6"/>
<rect x="1351.38" y="1184.84" width="131.14" height="32.31" fill="#a6a6a6"/>
<rect x="1482.51" y="1184.84" width="131.14" height="32.31" fill="#ffc000"/>
<rect x="957.97" y="1217.16" width="131.14" height="32.31" fill="#ffc000"/>
<rect x="1351.38" y="1217.16" width="131.14" height="32.31" fill="#ffc000"/>
<rect x="1482.51" y="1217.16" width="131.14" height="32.31" fill="#70ad47"/>
<rect x="957.97" y="1249.47" width="131.14" height="32.31" fill="#a6a6a6"/>
<rect x="1089.11" y="1249.47" width="131.14" height="32.31" fill="#ffc000"/>
<rect x="1220.24" y="1249.47" width="131.14" height="32.31" fill="#a6a6a6"/>
<rect x="1482.51" y="1249.47" width="131.14" height="32.31" fill="#ffc000"/>
<rect x="957.97" y="1281.78" width="131.14" height="32.31" fill="#ffc000"/>
<rect x="1351.38" y="1281.78" width="131.14" height="32.31" fill="#70ad47"/>
<rect x="1482.51" y="1281.78" width="131.14" height="32.31" fill="#ffc000"/>
<rect x="695.70" y="1314.09" width="131.14" height="32.31" fill="#ffc000"/>
<rect x="826.84" y="1314.09" width="131.14" height="32.31" fill="#a6a6a6"/>
<rect x="957.97" y="1314.09" width="131.14" height="32.31" fill="#a6a6a6"/>
<rect x="1089.11" y="1314.09" width="131.14" height="32.31" fill="#a6a6a6"/>
<rect x="1220.24" y="1314.09" width="131.14" height="32.31" fill="#ffc000"/>
<rect x="1351.38" y="1314.09" width="131.14" height="32.31" fill="#ffc000"/>
<rect x="1482.51" y="1314.09" width="131.14" height="32.31" fill="#ffc000"/>
<rect x="695.70" y="1346.41" width="131.14" height="32.31" fill="#ffc000"/>
<rect x="826.84" y="1346.41" width="131.14" height="32.31" fill="#a6a6a6"/>
<rect x="957.97" y="1346.41" width="131.14" height="32.31" fill="#a6a6a6"/>
<rect x="1089.11" y="1346.41" width="131.14" height="32.31" fill="#a6a6a6"/>
<rect x="1220.24" y="1346.41" width="131.14" height="32.31" fill="#ffc000"/>
<rect x="1351.38" y="1346.41" width="131.14" height="32.31" fill="#ffc000"/>
<rect x="1482.51" y="1346.41" width="131.14" height="32.31" fill="#ffc000"/>
<rect x="957.97" y="1378.72" width="131.14" height="32.31" fill="#a6a6a6"/>
<rect x="957.97" y="1411.03" width="131.14" height="32.31" fill="#a6a6a6"/>
<rect x="1089.11" y="1411.03" width="131.14" height="32.31" fill="#70ad47"/>
<rect x="1220.24" y="1411.03" width="131.14" height="32.31" fill="#ffc000"/>
<rect x="957.97" y="1443.35" width="131.14" height="32.31" fill="#a6a6a6"/>
<rect x="957.97" y="1475.66" width="131.14" height="32.31" fill="#ffc000"/>
<rect x="1089.11" y="1475.66" width="131.14" height="32.31" fill="#70ad47"/>
<rect x="1220.24" y="1475.66" width="131.14" height="32.31" fill="#ffc000"/>
<rect x="1351.38" y="1475.66" width="131.14" height="32.31" fill="#ffc000"/>
<rect x="695.70" y="1507.97" width="131.14" height="32.31" fill="#ffc000"/>
<rect x="957.97" y="1507.97" width="131.14" height="32.31" fill="#a6a6a6"/>
<rect x="1089.11" y="1507.97" width="131.14" height="32.31" fill="#ffc000"/>
<rect x="1220.24" y="1507.97" width="131.14" height="32.31" fill="#ffc000"/>
<rect x="1351.38" y="1507.97" width="131.14" height="32.31" fill="#70ad47"/>
<rect x="1482.51" y="1507.97" width="131.14" height="32.31" fill="#a6a6a6"/>
<rect x="826.84" y="1540.29" width="131.14" height="32.31" fill="#a6a6a6"/>
<rect x="957.97" y="1540.29" width="131.14" height="32.31" fill="#ffc000"/>
<rect x="1351.38" y="1540.29" width="131.14" height="32.31" fill="#ffc000"/>
</g>
<text font-size="32.9" transform="translate(612.60 960.30) scale(0.94 1)" font-weight="bold" stroke-width="0">E</text>
<line x1="702.80" y1="918.00" x2="962.80" y2="918.00" stroke="#000" stroke-width="3.6" stroke-linecap="round"/>
<line x1="1105.50" y1="918.00" x2="1602.80" y2="918.00" stroke="#000" stroke-width="3.6" stroke-linecap="round"/>
<text font-size="31" x="773.30" y="909.40" font-style="italic" textLength="141.00" lengthAdjust="spacingAndGlyphs">Passaged</text>
<text font-size="31" x="1296.80" y="909.40" font-style="italic" textLength="115.00" lengthAdjust="spacingAndGlyphs">2 weeks</text>
<text font-size="31.5" x="750.00" y="953.30" font-style="italic" textLength="34.00" lengthAdjust="spacingAndGlyphs">#1</text>
<text font-size="31.5" x="887.00" y="953.30" font-style="italic" textLength="35.00" lengthAdjust="spacingAndGlyphs">#2</text>
<text font-size="31.5" x="973.50" y="953.30" font-style="italic" textLength="126.00" lengthAdjust="spacingAndGlyphs">Inoculum</text>
<text font-size="31.5" x="1140.30" y="953.30" font-style="italic" textLength="34.00" lengthAdjust="spacingAndGlyphs">#1</text>
<text font-size="31.5" x="1276.60" y="953.30" font-style="italic" textLength="35.00" lengthAdjust="spacingAndGlyphs">#2</text>
<text font-size="31.5" x="1395.70" y="953.30" font-style="italic" textLength="35.00" lengthAdjust="spacingAndGlyphs">#3</text>
<text font-size="31.5" x="1521.40" y="953.30" font-style="italic" textLength="35.00" lengthAdjust="spacingAndGlyphs">#4</text>
<text font-size="27" transform="translate(674.03 987.60) scale(0.93 1)" font-style="italic">A</text>
<text font-size="27" transform="translate(671.71 1017.10) scale(0.93 1)" font-style="italic">B</text>
<text font-size="27" transform="translate(670.98 1052.70) scale(0.93 1)" font-style="italic">C</text>
<text font-size="27" transform="translate(671.28 1083.20) scale(0.93 1)" font-style="italic">D</text>
<text font-size="27" transform="translate(670.97 1115.80) scale(0.93 1)" font-style="italic">E</text>
<text font-size="27" transform="translate(669.15 1146.30) scale(0.93 1)" font-style="italic">F</text>
<text font-size="27" transform="translate(666.44 1175.70) scale(0.93 1)" font-style="italic">G</text>
<text font-size="27" transform="translate(668.55 1210.30) scale(0.93 1)" font-style="italic">H</text>
<text font-size="27" transform="translate(675.66 1242.90) scale(0.93 1)" font-style="italic">I</text>
<text font-size="27" transform="translate(670.36 1271.00) scale(0.93 1)" font-style="italic">J</text>
<text font-size="27" transform="translate(668.54 1303.40) scale(0.93 1)" font-style="italic">K</text>
<text font-size="27" transform="translate(669.85 1334.30) scale(0.93 1)" font-style="italic">L</text>
<text font-size="27" transform="translate(669.06 1367.90) scale(0.93 1)" font-style="italic">M</text>
<text font-size="27" transform="translate(669.05 1402.10) scale(0.93 1)" font-style="italic">N</text>
<text font-size="27" transform="translate(669.18 1435.00) scale(0.93 1)" font-style="italic">O</text>
<text font-size="27" transform="translate(669.15 1464.50) scale(0.93 1)" font-style="italic">P</text>
<text font-size="27" transform="translate(669.01 1492.20) scale(0.93 1)" font-style="italic">Q</text>
<text font-size="27" transform="translate(668.53 1531.00) scale(0.93 1)" font-style="italic">R</text>
<text font-size="27" transform="translate(669.21 1563.10) scale(0.93 1)" font-style="italic">S</text>
<text font-size="33.4" transform="translate(638.50 1255.70) rotate(-90) scale(0.934 1)" font-weight="bold" text-anchor="middle" stroke-width="0">Clones</text>
</g>
<g id="legend">
<text font-size="28.6" x="1652.00" y="1403.80" font-weight="bold" font-style="italic" textLength="447.50" lengthAdjust="spacingAndGlyphs" stroke-width="0.4">Abundance of Clone in a Sample</text>
<rect x="1668.30" y="1421.30" width="115.30" height="28.58" fill="url(#hWhite)" stroke="#000" stroke-width="1.7"/>
<rect x="1668.30" y="1449.88" width="115.30" height="28.58" fill="#70ad47" stroke="#000" stroke-width="1.7"/>
<rect x="1668.30" y="1478.46" width="115.30" height="28.58" fill="#a6a6a6" stroke="#000" stroke-width="1.7"/>
<rect x="1668.30" y="1507.04" width="115.30" height="28.58" fill="#ffc000" stroke="#000" stroke-width="1.7"/>
<rect x="1668.30" y="1535.62" width="115.30" height="28.58" fill="#000000" stroke="#000" stroke-width="1.7"/>
<text font-size="29" x="1797.50" y="1445.20" font-style="italic" textLength="186.00" lengthAdjust="spacingAndGlyphs">Most Frequent</text>
<text font-size="28.4" x="1795.50" y="1475.50" font-style="italic">&gt;5%</text>
<text font-size="28.4" x="1795.00" y="1507.10" font-style="italic">0.2 - 5%</text>
<text font-size="28.4" x="1788.00" y="1535.20" font-style="italic">&lt;0.2%</text>
<text font-size="28.4" x="1796.20" y="1562.00" font-style="italic" textLength="161.50" lengthAdjust="spacingAndGlyphs">Not detected</text>
</g>
</svg>
</body>
</html>
